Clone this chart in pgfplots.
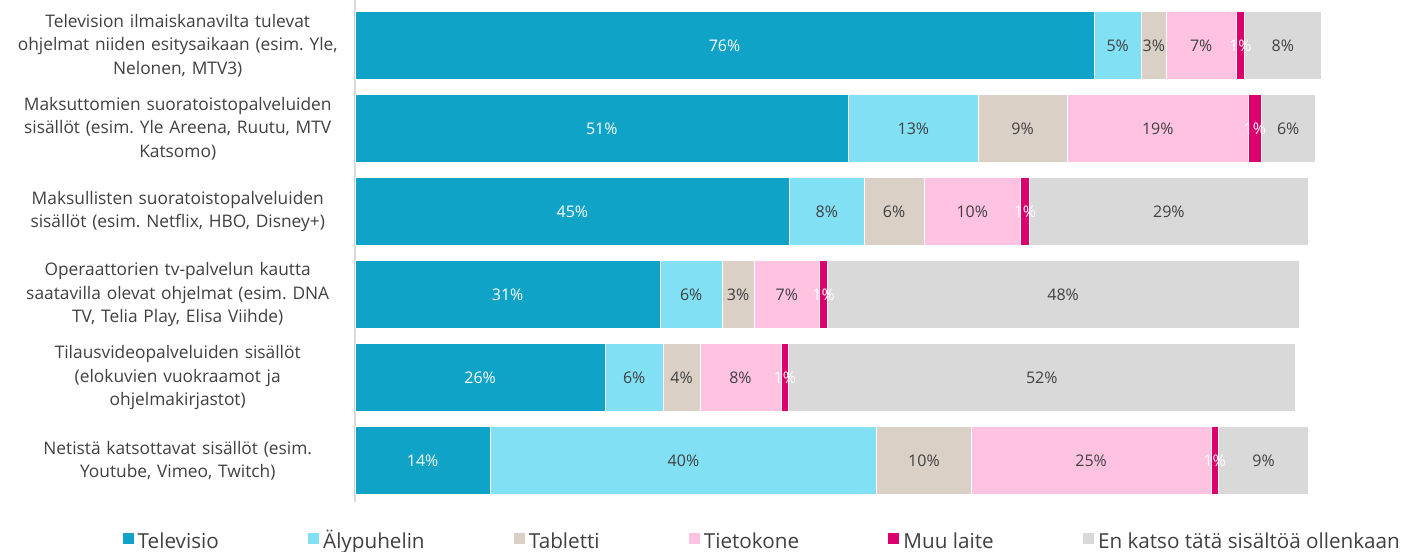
\documentclass[border=0pt]{standalone}
\usepackage{pgfplots}
\pgfplotsset{compat=1.18}
\usepackage{pgfplotstable}
\usepackage{fontspec}
\setmainfont{Open Sans}
\newfontfamily\legfont{Open Sans}
\frenchspacing
\newlength\px \setlength\px{0.75pt}
\definecolor{cTV}{HTML}{10A3C8}
\definecolor{cSP}{HTML}{82E0F5}
\definecolor{cTab}{HTML}{DAD0C6}
\definecolor{cPC}{HTML}{FFC3E1}
\definecolor{cMuu}{HTML}{DC006E}
\definecolor{cEn}{HTML}{D9D9D9}
\definecolor{cTxt}{HTML}{404040}

\pgfplotstableread{
cat tv sp tab pc muu en tvL spL tabL pcL muuL enL
0 76.5 4.9 2.6 7.2 0.9 7.9 76 5 3 7 1 8
1 51.1 13.4 9.2 18.8 1.3 5.6 51 13 9 19 1 6
2 45.0 7.7 6.2 10.0 0.9 28.9 45 8 6 10 1 29
3 31.6 6.4 3.3 6.8 0.8 48.8 31 6 3 7 1 48
4 25.9 6.0 3.8 8.4 0.8 52.4 26 6 4 8 1 52
5 14.0 40.0 9.8 24.8 0.8 9.3 14 40 10 25 1 9
}\data

\pgfplotsset{
  seg/.style n args={3}{
    fill=#1, draw=white, line width=0.5\px,
    point meta=explicit symbolic,
    nodes near coords={\pgfplotspointmeta\%},
    every node near coord/.append style={anchor=center, text=#3,
      font=\fontsize{12}{14}\selectfont},
  },
}

\begin{document}
\begin{tikzpicture}
\useasboundingbox (-355\px,-49\px) rectangle (1050\px,502\px);
\begin{axis}[
  at={(0,0)}, anchor=south west,
  scale only axis, width=966\px, height=502\px,
  xbar stacked, bar width=0.82,
  xmin=0, xmax=100, ymin=-0.55, ymax=5.5, y dir=reverse,
  axis x line=none, axis y line*=left,
  axis line style={draw=cEn, line width=1.5\px},
  clip=false,
  ytick={0,...,5},
  yticklabels={
    {Television ilmaiskanavilta tulevat\\ohjelmat niiden esitysaikaan (esim. Yle,\\Nelonen, MTV3)},
    {Maksuttomien suoratoistopalveluiden\\sisällöt (esim. Yle Areena, Ruutu, MTV\\Katsomo)},
    {Maksullisten suoratoistopalveluiden\\sisällöt (esim. Netflix, HBO, Disney+)},
    {Operaattorien tv-palvelun kautta\\saatavilla olevat ohjelmat (esim. DNA\\TV, Telia Play, Elisa Viihde)},
    {Tilausvideopalveluiden sisällöt\\(elokuvien vuokraamot ja\\ohjelmakirjastot)},
    {Netistä katsottavat sisällöt (esim.\\Youtube, Vimeo, Twitch)}
  },
  major tick length=0pt,
  yticklabel style={font=\fontsize{13}{17.6}\selectfont, text=cTxt,
    align=center, text width=334\px, inner sep=0pt, xshift=-10\px},
  legend columns=6,
  legend image code/.code={\fill[#1,draw=none] (0pt,-0.5pt) rectangle (8.25pt,7.75pt);},
  legend style={draw=none, fill=none, at={(axis description cs:0.422,-0.082)}, anchor=center,
    font=\legfont\fontsize{15.5}{18}\selectfont, text=cTxt,
    nodes={text height=11.5pt, text depth=3.5pt},
    /tikz/every odd column/.append style={column sep=1pt},
    /tikz/every even column/.append style={column sep=65pt}},
]
\addplot[seg={cTV}{tv}{white}] table[x=tv, y=cat, meta=tvL] {\data};
\addplot[seg={cSP}{sp}{cTxt}] table[x=sp, y=cat, meta=spL] {\data};
\addplot[seg={cTab}{tab}{cTxt}] table[x=tab, y=cat, meta=tabL] {\data};
\addplot[seg={cPC}{pc}{cTxt}] table[x=pc, y=cat, meta=pcL] {\data};
\addplot[seg={cMuu}{muu}{white}] table[x=muu, y=cat, meta=muuL] {\data};
\addplot[seg={cEn}{en}{cTxt}] table[x=en, y=cat, meta=enL] {\data};
\legend{Televisio, Älypuhelin, Tabletti, Tietokone, Muu laite, En katso tätä sisältöä ollenkaan}
\end{axis}
\end{tikzpicture}
\end{document}
